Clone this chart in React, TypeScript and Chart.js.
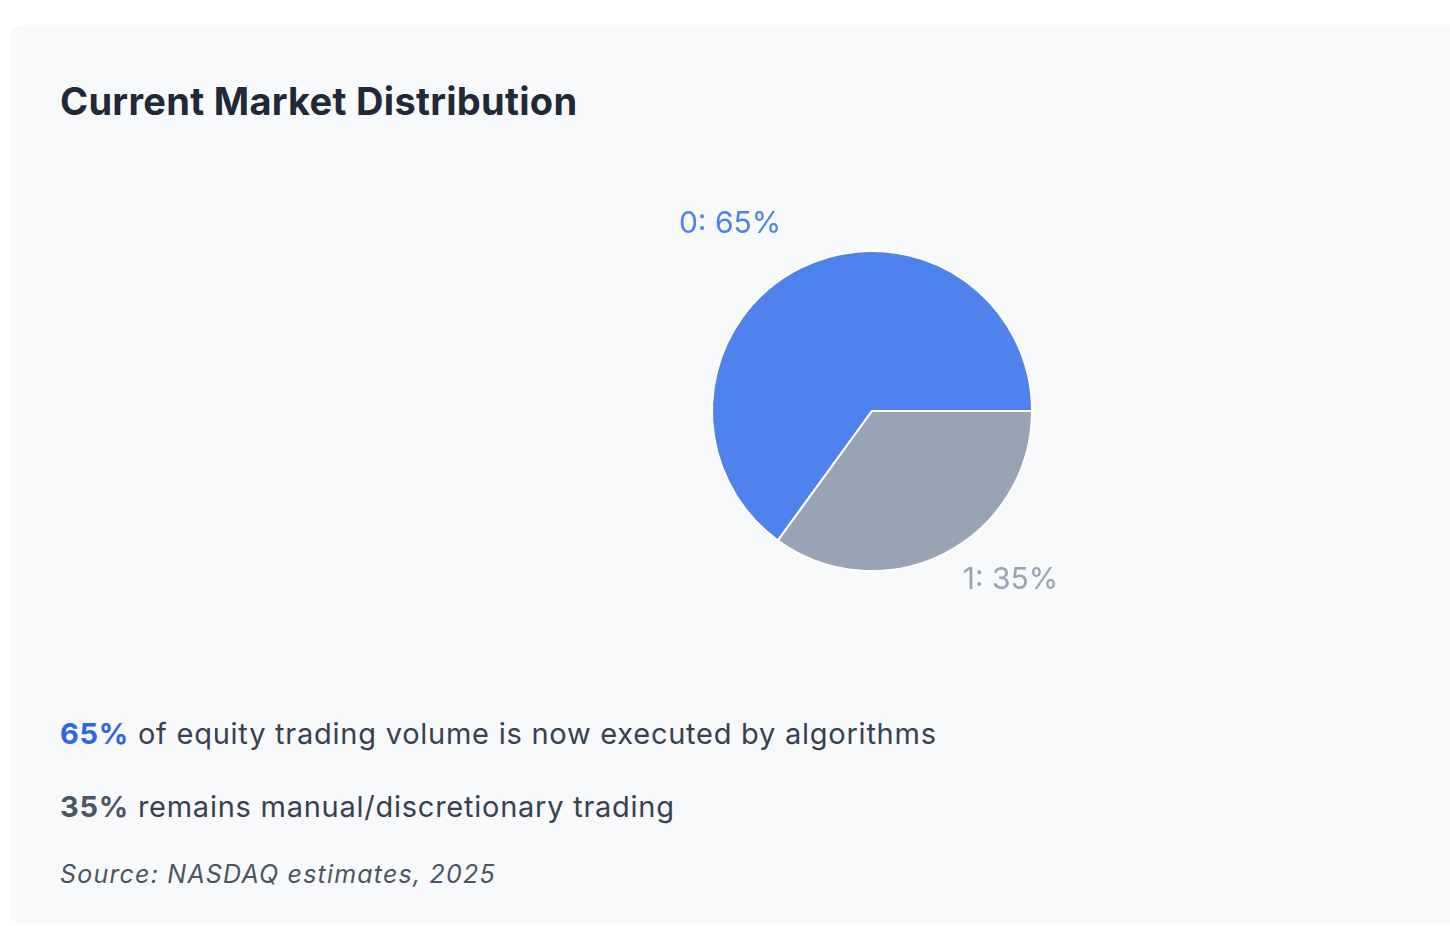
import { useEffect, useRef } from "react";
import { Chart, registerables } from "chart.js";

Chart.register(...registerables);

// market split
const segmentNames = ["0", "1"];
const segmentShares = [65, 35];
const segmentColors = ["#5082ED", "#98A3B5"];

const FONT = "Inter, 'Noto Sans', sans-serif";

// draws "name: value%" outside each slice, like the reference
const outsideLabels = {
  id: "outsideLabels",
  afterDatasetsDraw(chart: any) {
    const { ctx } = chart;
    const meta = chart.getDatasetMeta(0);
    ctx.save();
    ctx.font = `400 30px ${FONT}`;
    ctx.textBaseline = "alphabetic";
    meta.data.forEach((arc: any, i: number) => {
      const { x, y, startAngle, endAngle, outerRadius } = arc.getProps(
        ["x", "y", "startAngle", "endAngle", "outerRadius"],
        true
      );
      const mid = (startAngle + endAngle) / 2;
      const r = outerRadius + 40;
      const px = x + Math.cos(mid) * r;
      const py = y + Math.sin(mid) * r;
      ctx.textAlign = Math.cos(mid) < 0 ? "right" : "left";
      ctx.fillStyle = segmentColors[i];
      ctx.fillText(`${segmentNames[i]}: ${segmentShares[i]}%`, px, py);
    });
    ctx.restore();
  },
};

function MarketPie() {
  const canvasRef = useRef<HTMLCanvasElement>(null);

  useEffect(() => {
    if (!canvasRef.current) return;

    const chart = new Chart(canvasRef.current, {
      type: "pie",
      data: {
        labels: segmentNames,
        datasets: [
          {
            data: segmentShares,
            backgroundColor: segmentColors,
            borderColor: "#ffffff",
            borderWidth: 2,
            radius: 160,
          },
        ],
      },
      options: {
        responsive: true,
        maintainAspectRatio: false,
        animation: false,
        rotation: -144,
        plugins: {
          legend: { display: false },
          tooltip: { enabled: false },
        },
      },
      plugins: [outsideLabels],
    });

    return () => {
      chart.destroy();
    };
  }, []);

  return (
    <div style={{ position: "relative", height: 500, marginTop: 38 }}>
      <canvas ref={canvasRef}></canvas>
    </div>
  );
}

export default function App() {
  return (
    <div
      style={{
        position: "fixed",
        inset: 0,
        overflow: "hidden",
        background: "#ffffff",
        fontFamily: FONT,
      }}
    >
      <div
        style={{
          position: "absolute",
          left: 10,
          top: 25,
          width: 1724,
          height: 899,
          boxSizing: "border-box",
          padding: "54px 50px 0 50px",
          background: "#F8F9FB",
          borderRadius: 12,
        }}
      >
        <h2
          style={{
            margin: 0,
            fontSize: 38,
            lineHeight: "44px",
            fontWeight: 700,
            letterSpacing: 0.3,
            color: "#1F2937",
          }}
        >
          Current Market Distribution
        </h2>
        <MarketPie />
        <p
          style={{
            margin: "53px 0 0 0",
            fontSize: 29,
            lineHeight: "40px",
            letterSpacing: 0.75,
            color: "#374151",
          }}
        >
          <span style={{ color: "#2F66E0", fontWeight: 700 }}>65%</span> of
          equity trading volume is now executed by algorithms
        </p>
        <p
          style={{
            margin: "33px 0 0 0",
            fontSize: 29,
            lineHeight: "40px",
            letterSpacing: 0.75,
            color: "#374151",
          }}
        >
          <span style={{ color: "#4B5563", fontWeight: 700 }}>35%</span>{" "}
          remains manual/discretionary trading
        </p>
        <p
          style={{
            margin: "31px 0 0 0",
            fontSize: 25,
            lineHeight: "32px",
            fontStyle: "italic",
            letterSpacing: 1.2,
            color: "#4B5563",
          }}
        >
          Source: NASDAQ estimates, 2025
        </p>
      </div>
    </div>
  );
}
